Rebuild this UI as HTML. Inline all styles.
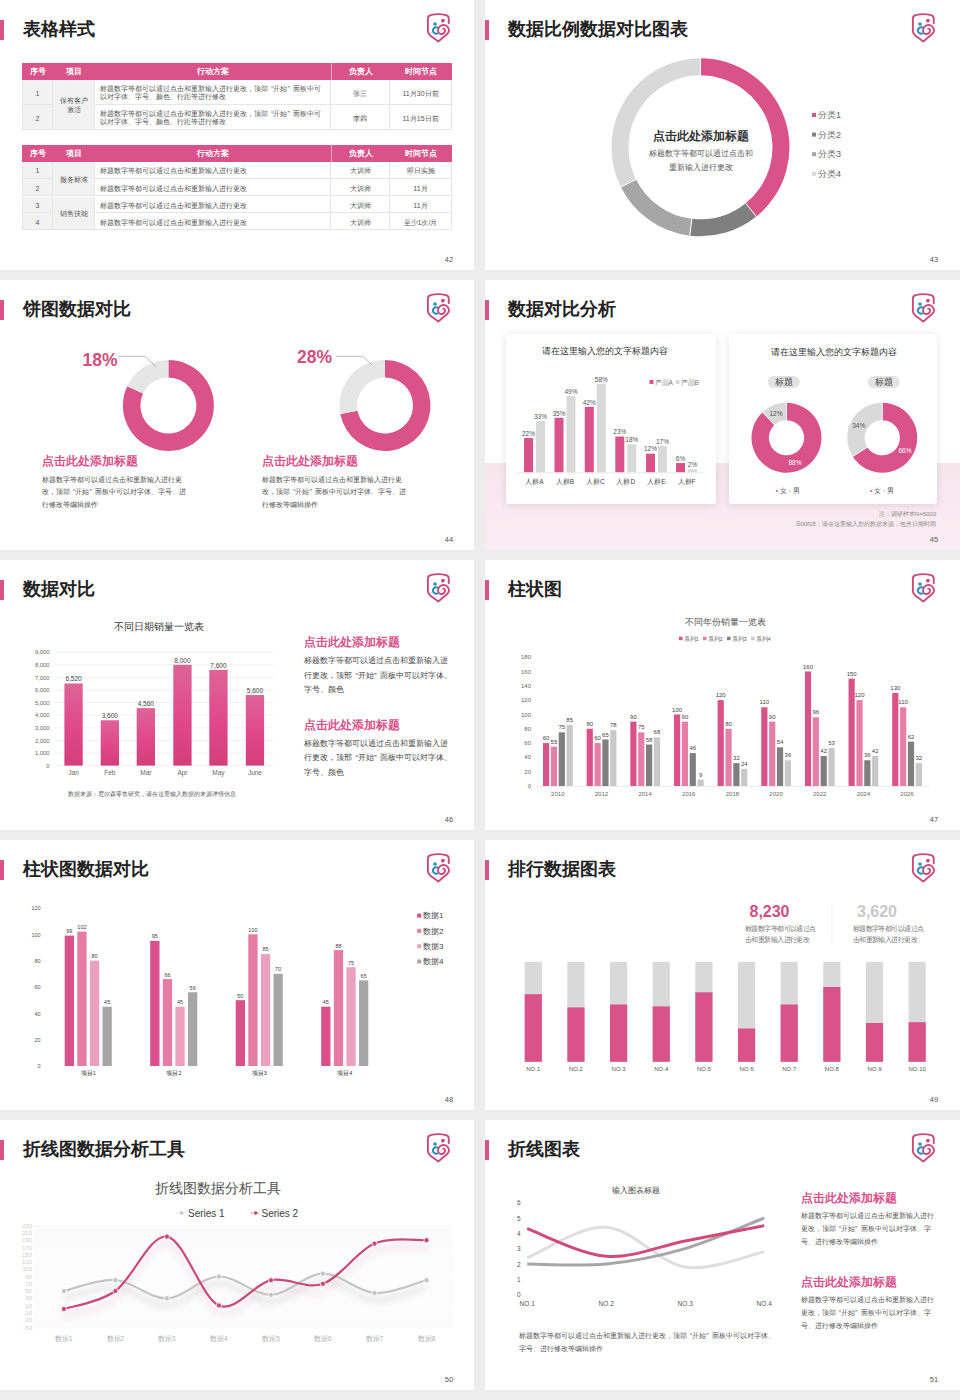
<!DOCTYPE html>
<html><head><meta charset="utf-8">
<style>
*{box-sizing:border-box}
html,body{margin:0;padding:0}
body{width:960px;height:1400px;background:#ededed;position:relative;overflow:hidden;font-family:"Liberation Sans",sans-serif;color:#333}
.s{position:absolute;width:474px;height:270px;background:#fff;overflow:hidden}
.c0{left:0}.c1{left:485px;width:475px}
.bar{position:absolute;left:0;top:20px;width:4px;height:20px;background:#d9538a}
.t{position:absolute;left:23px;top:19px;font-size:18px;line-height:20px;font-weight:bold;color:#222;white-space:nowrap}
.logo{position:absolute;left:420px;top:5px;width:40px;height:45px}
.pn{position:absolute;left:439px;width:20px;top:255px;font-size:7.5px;line-height:9px;color:#555;text-align:center}
.a{position:absolute;white-space:nowrap}
svg{display:block}
.sv{position:absolute;left:0;top:0}
.tc{position:absolute;display:flex;flex-direction:column;justify-content:center;font-size:7px;line-height:9px;color:#555;border-right:1px solid #e6e6e6;border-bottom:1px solid #e6e6e6;white-space:nowrap}
.th{position:absolute;background:#d9538a}
.thx{position:absolute;text-align:center;color:#fff;font-weight:bold;font-size:8px}
.tdv{position:absolute;width:1px;background:#f0a8c4}
.ql{padding-left:.45em}.qr{padding-right:.45em}
</style></head><body>
<div class="s c0" style="top:0px;">
<div class="th" style="left:22px;top:62.6px;width:430px;height:17.1px"></div>
<div class="thx" style="left:22px;top:62.6px;width:31px;height:17.1px;line-height:17.1px">序号</div>
<div class="thx" style="left:53px;top:62.6px;width:42px;height:17.1px;line-height:17.1px">项目</div>
<div class="thx" style="left:95px;top:62.6px;width:236px;height:17.1px;line-height:17.1px">行动方案</div>
<div class="thx" style="left:331px;top:62.6px;width:59px;height:17.1px;line-height:17.1px">负责人</div>
<div class="thx" style="left:390px;top:62.6px;width:62px;height:17.1px;line-height:17.1px">时间节点</div>
<div class="tdv" style="left:331px;top:62.6px;height:17.1px"></div>
<div class="tc" style="padding-top:2px;left:22px;top:79.7px;width:31px;height:25.7px;background:#f2f2f2;text-align:center;border-left:1px solid #e6e6e6"><div>1</div></div>
<div class="tc" style="padding-top:2px;left:95px;top:79.7px;width:236px;height:25.7px;background:#fff;padding-left:5px;line-height:8.5px"><div>标题数字等都可以通过点击和重新输入进行更改，顶部<span class="ql">“</span>开始<span class="qr">”</span>面板中可<br>以对字体、字号、颜色、行距等进行修改</div></div>
<div class="tc" style="padding-top:2px;left:331px;top:79.7px;width:59px;height:25.7px;background:#fff;text-align:center"><div>张三</div></div>
<div class="tc" style="padding-top:2px;left:390px;top:79.7px;width:62px;height:25.7px;background:#fff;text-align:center"><div>11月30日前</div></div>
<div class="tc" style="padding-top:2px;left:22px;top:105.4px;width:31px;height:24.8px;background:#f2f2f2;text-align:center;border-left:1px solid #e6e6e6"><div>2</div></div>
<div class="tc" style="padding-top:2px;left:95px;top:105.4px;width:236px;height:24.8px;background:#fff;padding-left:5px;line-height:8.5px"><div>标题数字等都可以通过点击和重新输入进行更改，顶部<span class="ql">“</span>开始<span class="qr">”</span>面板中可<br>以对字体、字号、颜色、行距等进行修改</div></div>
<div class="tc" style="padding-top:2px;left:331px;top:105.4px;width:59px;height:24.8px;background:#fff;text-align:center"><div>李四</div></div>
<div class="tc" style="padding-top:2px;left:390px;top:105.4px;width:62px;height:24.8px;background:#fff;text-align:center"><div>11月15日前</div></div>
<div class="tc" style="padding-top:2px;left:53px;top:79.7px;width:42px;height:50.5px;background:#f2f2f2;text-align:center;line-height:9px"><div>保有客户<br>激活</div></div>
<div class="th" style="left:22px;top:144.7px;width:430px;height:17.0px"></div>
<div class="thx" style="left:22px;top:144.7px;width:31px;height:17.0px;line-height:17.0px">序号</div>
<div class="thx" style="left:53px;top:144.7px;width:42px;height:17.0px;line-height:17.0px">项目</div>
<div class="thx" style="left:95px;top:144.7px;width:236px;height:17.0px;line-height:17.0px">行动方案</div>
<div class="thx" style="left:331px;top:144.7px;width:59px;height:17.0px;line-height:17.0px">负责人</div>
<div class="thx" style="left:390px;top:144.7px;width:62px;height:17.0px;line-height:17.0px">时间节点</div>
<div class="tdv" style="left:331px;top:144.7px;height:17.0px"></div>
<div class="tc" style="padding-top:2px;left:22px;top:161.7px;width:31px;height:17.5px;background:#f2f2f2;text-align:center;border-left:1px solid #e6e6e6"><div>1</div></div>
<div class="tc" style="padding-top:2px;left:95px;top:161.7px;width:236px;height:17.5px;background:#fff;padding-left:5px"><div>标题数字等都可以通过点击和重新输入进行更改</div></div>
<div class="tc" style="padding-top:2px;left:331px;top:161.7px;width:59px;height:17.5px;background:#fff;text-align:center"><div>大训师</div></div>
<div class="tc" style="padding-top:2px;left:390px;top:161.7px;width:62px;height:17.5px;background:#fff;text-align:center"><div>即日实施</div></div>
<div class="tc" style="padding-top:2px;left:22px;top:179.2px;width:31px;height:17.3px;background:#f2f2f2;text-align:center;border-left:1px solid #e6e6e6"><div>2</div></div>
<div class="tc" style="padding-top:2px;left:95px;top:179.2px;width:236px;height:17.3px;background:#fff;padding-left:5px"><div>标题数字等都可以通过点击和重新输入进行更改</div></div>
<div class="tc" style="padding-top:2px;left:331px;top:179.2px;width:59px;height:17.3px;background:#fff;text-align:center"><div>大训师</div></div>
<div class="tc" style="padding-top:2px;left:390px;top:179.2px;width:62px;height:17.3px;background:#fff;text-align:center"><div>11月</div></div>
<div class="tc" style="padding-top:2px;left:22px;top:196.5px;width:31px;height:16.9px;background:#f2f2f2;text-align:center;border-left:1px solid #e6e6e6"><div>3</div></div>
<div class="tc" style="padding-top:2px;left:95px;top:196.5px;width:236px;height:16.9px;background:#fff;padding-left:5px"><div>标题数字等都可以通过点击和重新输入进行更改</div></div>
<div class="tc" style="padding-top:2px;left:331px;top:196.5px;width:59px;height:16.9px;background:#fff;text-align:center"><div>大训师</div></div>
<div class="tc" style="padding-top:2px;left:390px;top:196.5px;width:62px;height:16.9px;background:#fff;text-align:center"><div>11月</div></div>
<div class="tc" style="padding-top:2px;left:22px;top:213.4px;width:31px;height:16.9px;background:#f2f2f2;text-align:center;border-left:1px solid #e6e6e6"><div>4</div></div>
<div class="tc" style="padding-top:2px;left:95px;top:213.4px;width:236px;height:16.9px;background:#fff;padding-left:5px"><div>标题数字等都可以通过点击和重新输入进行更改</div></div>
<div class="tc" style="padding-top:2px;left:331px;top:213.4px;width:59px;height:16.9px;background:#fff;text-align:center"><div>大训师</div></div>
<div class="tc" style="padding-top:2px;left:390px;top:213.4px;width:62px;height:16.9px;background:#fff;text-align:center"><div>至少1次/月</div></div>
<div class="tc" style="padding-top:2px;left:53px;top:161.7px;width:42px;height:34.8px;background:#f2f2f2;text-align:center"><div>服务标准</div></div>
<div class="tc" style="padding-top:2px;left:53px;top:196.5px;width:42px;height:33.8px;background:#f2f2f2;text-align:center"><div>销售技能</div></div>
<div class="bar"></div><div class="t">表格样式</div>
<svg class="logo" viewBox="0 0 40 45"><use href="#lg"/></svg>
<div class="pn">42</div>
</div>

<div class="s c1" style="top:0px;">
<svg class="sv" width="475" height="270">
<path d="M215.50 58.30A89 89 0 0 1 271.39 216.56L260.71 203.33A72 72 0 0 0 215.50 75.30Z" fill="#d9538a"/>
<path d="M271.39 216.56A89 89 0 0 1 204.81 235.66L206.85 218.78A72 72 0 0 0 260.71 203.33Z" fill="#7f7f7f"/>
<path d="M204.81 235.66A89 89 0 0 1 135.85 187.01L151.06 179.43A72 72 0 0 0 206.85 218.78Z" fill="#a6a6a6"/>
<path d="M135.85 187.01A89 89 0 0 1 215.50 58.30L215.50 75.30A72 72 0 0 0 151.06 179.43Z" fill="#d9d9d9"/>
<line x1="215.50" y1="75.30" x2="215.50" y2="57.30" stroke="#fff" stroke-width="1"/>
<line x1="260.71" y1="203.33" x2="272.02" y2="217.34" stroke="#fff" stroke-width="1"/>
<line x1="206.85" y1="218.78" x2="204.69" y2="236.65" stroke="#fff" stroke-width="1"/>
<line x1="151.06" y1="179.43" x2="134.96" y2="187.46" stroke="#fff" stroke-width="1"/>
<rect x="327" y="113.0" width="4" height="4" fill="#d9538a"/>
<rect x="327" y="132.6" width="4" height="4" fill="#7f7f7f"/>
<rect x="327" y="152.2" width="4" height="4" fill="#a6a6a6"/>
<rect x="327" y="171.8" width="4" height="4" fill="#d9d9d9"/>
</svg>
<div class="a" style="left:333px;top:110.15px;font-size:9px;line-height:11.700000000000001px;color:#666;">分类1</div>
<div class="a" style="left:333px;top:129.75px;font-size:9px;line-height:11.700000000000001px;color:#666;">分类2</div>
<div class="a" style="left:333px;top:149.35px;font-size:9px;line-height:11.700000000000001px;color:#666;">分类3</div>
<div class="a" style="left:333px;top:168.95px;font-size:9px;line-height:11.700000000000001px;color:#666;">分类4</div>
<div class="a" style="left:216px;top:128.70px;font-size:12px;line-height:15.600000000000001px;color:#333;font-weight:bold;transform:translateX(-50%);text-align:center;">点击此处添加标题</div>
<div class="a" style="left:216px;top:148.80px;font-size:8px;line-height:10.4px;color:#555;transform:translateX(-50%);text-align:center;">标题数字等都可以通过点击和</div>
<div class="a" style="left:216px;top:162.80px;font-size:8px;line-height:10.4px;color:#555;transform:translateX(-50%);text-align:center;">重新输入进行更改</div>
<div class="bar"></div><div class="t">数据比例数据对比图表</div>
<svg class="logo" viewBox="0 0 40 45"><use href="#lg"/></svg>
<div class="pn">43</div>
</div>

<div class="s c0" style="top:280px;">
<svg class="sv" width="474" height="270">
<path d="M168.40 80.00A45.5 45.5 0 1 1 127.23 106.13L143.06 113.58A28 28 0 1 0 168.40 97.50Z" fill="#d9538a"/>
<path d="M127.23 106.13A45.5 45.5 0 0 1 168.40 80.00L168.40 97.50A28 28 0 0 0 143.06 113.58Z" fill="#e6e6e6"/>
<path d="M385.00 80.00A45.5 45.5 0 1 1 340.31 134.03L357.50 130.75A28 28 0 1 0 385.00 97.50Z" fill="#d9538a"/>
<path d="M340.31 134.03A45.5 45.5 0 0 1 385.00 80.00L385.00 97.50A28 28 0 0 0 357.50 130.75Z" fill="#e6e6e6"/>
<polyline points="118,76.3 145,76.3 156.3,87" fill="none" stroke="#b5a3aa" stroke-width="0.8"/>
<polyline points="336,76.3 363,76.3 372,85" fill="none" stroke="#b5a3aa" stroke-width="0.8"/>
</svg>
<div class="a" style="left:100px;top:69.12px;font-size:17.5px;line-height:22.75px;color:#d0507f;font-weight:bold;transform:translateX(-50%);text-align:center;">18%</div>
<div class="a" style="left:314.5px;top:66.12px;font-size:17.5px;line-height:22.75px;color:#d0507f;font-weight:bold;transform:translateX(-50%);text-align:center;">28%</div>
<div class="a" style="left:42px;top:174.00px;font-size:12px;line-height:15.600000000000001px;color:#d9538a;font-weight:bold;">点击此处添加标题</div>
<div class="a" style="left:42px;top:193.55px;font-size:7px;line-height:12.5px;color:#505050;">标题数字等都可以通过点击和重新输入进行更<br>改，顶部<span class="ql">“</span>开始<span class="qr">”</span>面板中可以对字体、字号、进<br>行修改等编辑操作</div>
<div class="a" style="left:262px;top:174.00px;font-size:12px;line-height:15.600000000000001px;color:#d9538a;font-weight:bold;">点击此处添加标题</div>
<div class="a" style="left:262px;top:193.55px;font-size:7px;line-height:12.5px;color:#505050;">标题数字等都可以通过点击和重新输入进行更<br>改，顶部<span class="ql">“</span>开始<span class="qr">”</span>面板中可以对字体、字号、进<br>行修改等编辑操作</div>
<div class="bar"></div><div class="t">饼图数据对比</div>
<svg class="logo" viewBox="0 0 40 45"><use href="#lg"/></svg>
<div class="pn">44</div>
</div>

<div class="s c1" style="top:280px;">
<div style="position:absolute;left:0;top:183px;width:475px;height:87px;background:linear-gradient(#f7e5ec,#fbedf3)"></div>
<div style="position:absolute;left:21px;top:54px;width:210px;height:170px;background:#fff;border-radius:3px;box-shadow:0 1px 9px rgba(0,0,0,0.11)"></div>
<div style="position:absolute;left:244px;top:54px;width:208px;height:170px;background:#fff;border-radius:3px;box-shadow:0 1px 9px rgba(0,0,0,0.11)"></div>
<svg class="sv" width="475" height="270">
<rect x="39" y="158.08" width="9" height="34.32" fill="#d9538a"/>
<rect x="51" y="140.92" width="9" height="51.48" fill="#d9d9d9"/>
<rect x="69.5" y="137.80" width="9" height="54.60" fill="#d9538a"/>
<rect x="81.5" y="115.96" width="9" height="76.44" fill="#d9d9d9"/>
<rect x="99.8" y="126.88" width="9" height="65.52" fill="#d9538a"/>
<rect x="111.8" y="104.10" width="9" height="88.30" fill="#d9d9d9"/>
<rect x="130.3" y="156.52" width="9" height="35.88" fill="#d9538a"/>
<rect x="142.3" y="164.32" width="9" height="28.08" fill="#d9d9d9"/>
<rect x="161" y="173.68" width="9" height="18.72" fill="#d9538a"/>
<rect x="173" y="165.88" width="9" height="26.52" fill="#d9d9d9"/>
<rect x="191" y="183.04" width="9" height="9.36" fill="#d9538a"/>
<rect x="203" y="189.28" width="9" height="3.12" fill="#d9d9d9"/>
<line x1="32" y1="192.9" x2="218" y2="192.9" stroke="#e8e8e8" stroke-width="1"/>
<rect x="164.5" y="100" width="4" height="4" fill="#d9538a"/>
<rect x="190.5" y="100" width="4" height="4" fill="#d9d9d9"/>
<path d="M301.50 122.75A35 35 0 1 1 277.54 132.24L289.45 144.92A17.6 17.6 0 1 0 301.50 140.15Z" fill="#d9538a"/>
<path d="M277.54 132.24A35 35 0 0 1 301.50 122.75L301.50 140.15A17.6 17.6 0 0 0 289.45 144.92Z" fill="#d9d9d9"/>
<line x1="301.50" y1="140.75" x2="301.50" y2="121.75" stroke="#fff" stroke-width="0.8"/>
<line x1="289.86" y1="145.36" x2="276.86" y2="131.51" stroke="#fff" stroke-width="0.8"/>
<path d="M397.25 122.75A35 35 0 1 1 367.70 176.50L382.39 167.18A17.6 17.6 0 1 0 397.25 140.15Z" fill="#d9538a"/>
<path d="M367.70 176.50A35 35 0 0 1 397.25 122.75L397.25 140.15A17.6 17.6 0 0 0 382.39 167.18Z" fill="#d9d9d9"/>
<line x1="397.25" y1="140.75" x2="397.25" y2="121.75" stroke="#fff" stroke-width="0.8"/>
<line x1="382.90" y1="166.86" x2="366.85" y2="177.04" stroke="#fff" stroke-width="0.8"/>
<rect x="282.75" y="96" width="32" height="12" rx="6" fill="#e3e3e3"/>
<rect x="382.75" y="96" width="32" height="12" rx="6" fill="#e3e3e3"/>
</svg>
<div class="a" style="left:43.5px;top:149.86px;font-size:6.5px;line-height:8.450000000000001px;color:#555;transform:translateX(-50%);text-align:center;">22%</div>
<div class="a" style="left:55.5px;top:132.70px;font-size:6.5px;line-height:8.450000000000001px;color:#555;transform:translateX(-50%);text-align:center;">33%</div>
<div class="a" style="left:74.0px;top:129.58px;font-size:6.5px;line-height:8.450000000000001px;color:#555;transform:translateX(-50%);text-align:center;">35%</div>
<div class="a" style="left:86.0px;top:107.74px;font-size:6.5px;line-height:8.450000000000001px;color:#555;transform:translateX(-50%);text-align:center;">49%</div>
<div class="a" style="left:104.3px;top:118.66px;font-size:6.5px;line-height:8.450000000000001px;color:#555;transform:translateX(-50%);text-align:center;">42%</div>
<div class="a" style="left:116.3px;top:95.88px;font-size:6.5px;line-height:8.450000000000001px;color:#555;transform:translateX(-50%);text-align:center;">58%</div>
<div class="a" style="left:134.8px;top:148.30px;font-size:6.5px;line-height:8.450000000000001px;color:#555;transform:translateX(-50%);text-align:center;">23%</div>
<div class="a" style="left:146.8px;top:156.09px;font-size:6.5px;line-height:8.450000000000001px;color:#555;transform:translateX(-50%);text-align:center;">18%</div>
<div class="a" style="left:165.5px;top:165.46px;font-size:6.5px;line-height:8.450000000000001px;color:#555;transform:translateX(-50%);text-align:center;">12%</div>
<div class="a" style="left:177.5px;top:157.66px;font-size:6.5px;line-height:8.450000000000001px;color:#555;transform:translateX(-50%);text-align:center;">17%</div>
<div class="a" style="left:195.5px;top:174.82px;font-size:6.5px;line-height:8.450000000000001px;color:#555;transform:translateX(-50%);text-align:center;">6%</div>
<div class="a" style="left:207.5px;top:181.06px;font-size:6.5px;line-height:8.450000000000001px;color:#555;transform:translateX(-50%);text-align:center;">2%</div>
<div class="a" style="left:120px;top:66.28px;font-size:8.8px;line-height:11.440000000000001px;color:#333;transform:translateX(-50%);text-align:center;">请在这里输入您的文字标题内容</div>
<div class="a" style="left:348.75px;top:67.28px;font-size:8.8px;line-height:11.440000000000001px;color:#333;transform:translateX(-50%);text-align:center;">请在这里输入您的文字标题内容</div>
<div class="a" style="left:49.5px;top:198.28px;font-size:6.5px;line-height:8.450000000000001px;color:#444;transform:translateX(-50%);text-align:center;">人群A</div>
<div class="a" style="left:80.0px;top:198.28px;font-size:6.5px;line-height:8.450000000000001px;color:#444;transform:translateX(-50%);text-align:center;">人群B</div>
<div class="a" style="left:110.3px;top:198.28px;font-size:6.5px;line-height:8.450000000000001px;color:#444;transform:translateX(-50%);text-align:center;">人群C</div>
<div class="a" style="left:140.8px;top:198.28px;font-size:6.5px;line-height:8.450000000000001px;color:#444;transform:translateX(-50%);text-align:center;">人群D</div>
<div class="a" style="left:171.5px;top:198.28px;font-size:6.5px;line-height:8.450000000000001px;color:#444;transform:translateX(-50%);text-align:center;">人群E</div>
<div class="a" style="left:201.5px;top:198.28px;font-size:6.5px;line-height:8.450000000000001px;color:#444;transform:translateX(-50%);text-align:center;">人群F</div>
<div class="a" style="left:169.5px;top:98.78px;font-size:6.5px;line-height:8.450000000000001px;color:#777;">产品A</div>
<div class="a" style="left:195.5px;top:98.78px;font-size:6.5px;line-height:8.450000000000001px;color:#777;">产品B</div>
<div class="a" style="left:298.75px;top:97.15px;font-size:9px;line-height:11.700000000000001px;color:#444;transform:translateX(-50%);text-align:center;">标题</div>
<div class="a" style="left:398.75px;top:97.15px;font-size:9px;line-height:11.700000000000001px;color:#444;transform:translateX(-50%);text-align:center;">标题</div>
<div class="a" style="left:291px;top:129.78px;font-size:6.5px;line-height:8.450000000000001px;color:#555;transform:translateX(-50%);text-align:center;">12%</div>
<div class="a" style="left:310px;top:179.28px;font-size:6.5px;line-height:8.450000000000001px;color:#fff;transform:translateX(-50%);text-align:center;">88%</div>
<div class="a" style="left:373.75px;top:141.78px;font-size:6.5px;line-height:8.450000000000001px;color:#555;transform:translateX(-50%);text-align:center;">34%</div>
<div class="a" style="left:420px;top:167.28px;font-size:6.5px;line-height:8.450000000000001px;color:#fff;transform:translateX(-50%);text-align:center;">66%</div>
<div class="a" style="left:302.75px;top:206.78px;font-size:6.5px;line-height:8.450000000000001px;color:#555;transform:translateX(-50%);text-align:center;"><span style="color:#d9538a">•</span> 女 <span style="color:#ccc">•</span> 男</div>
<div class="a" style="left:397px;top:206.78px;font-size:6.5px;line-height:8.450000000000001px;color:#555;transform:translateX(-50%);text-align:center;"><span style="color:#d9538a">•</span> 女 <span style="color:#ccc">•</span> 男</div>
<div class="a" style="left:451px;top:230.85px;font-size:6px;line-height:7.800000000000001px;color:#888;transform:translateX(-100%);text-align:right;">注：调研样本N=5000</div>
<div class="a" style="left:451px;top:239.91px;font-size:6.3px;line-height:8.19px;color:#888;transform:translateX(-100%);text-align:right;">Source：请在这里输入您的数据来源，包含日期时间</div>
<div class="bar"></div><div class="t">数据对比分析</div>
<svg class="logo" viewBox="0 0 40 45"><use href="#lg"/></svg>
<div class="pn">45</div>
</div>

<div class="s c0" style="top:560px;">
<svg class="sv" width="474" height="270"><defs><linearGradient id="bg46" x1="0" y1="0" x2="0" y2="1"><stop offset="0" stop-color="#de6497"/><stop offset="0.55" stop-color="#e0488a"/><stop offset="1" stop-color="#d43f7a"/></linearGradient></defs>
<line x1="55" y1="205.60" x2="273" y2="205.60" stroke="#ececec" stroke-width="0.8"/>
<line x1="55" y1="193.00" x2="273" y2="193.00" stroke="#ececec" stroke-width="0.8"/>
<line x1="55" y1="180.40" x2="273" y2="180.40" stroke="#ececec" stroke-width="0.8"/>
<line x1="55" y1="167.80" x2="273" y2="167.80" stroke="#ececec" stroke-width="0.8"/>
<line x1="55" y1="155.20" x2="273" y2="155.20" stroke="#ececec" stroke-width="0.8"/>
<line x1="55" y1="142.60" x2="273" y2="142.60" stroke="#ececec" stroke-width="0.8"/>
<line x1="55" y1="130.00" x2="273" y2="130.00" stroke="#ececec" stroke-width="0.8"/>
<line x1="55" y1="117.40" x2="273" y2="117.40" stroke="#ececec" stroke-width="0.8"/>
<line x1="55" y1="104.80" x2="273" y2="104.80" stroke="#ececec" stroke-width="0.8"/>
<line x1="55" y1="92.20" x2="273" y2="92.20" stroke="#ececec" stroke-width="0.8"/>
<rect x="64.4" y="123.45" width="18.3" height="82.15" fill="url(#bg46)"/>
<rect x="100.7" y="160.24" width="18.3" height="45.36" fill="url(#bg46)"/>
<rect x="136.7" y="148.14" width="18.3" height="57.46" fill="url(#bg46)"/>
<rect x="173.3" y="104.80" width="18.3" height="100.80" fill="url(#bg46)"/>
<rect x="209.3" y="109.84" width="18.3" height="95.76" fill="url(#bg46)"/>
<rect x="245.8" y="135.04" width="18.3" height="70.56" fill="url(#bg46)"/>
</svg>
<div class="a" style="left:73.55000000000001px;top:115.42px;font-size:6.5px;line-height:8.450000000000001px;color:#444;transform:translateX(-50%);text-align:center;">6,520</div>
<div class="a" style="left:109.85000000000001px;top:152.22px;font-size:6.5px;line-height:8.450000000000001px;color:#444;transform:translateX(-50%);text-align:center;">3,600</div>
<div class="a" style="left:145.85px;top:140.12px;font-size:6.5px;line-height:8.450000000000001px;color:#444;transform:translateX(-50%);text-align:center;">4,560</div>
<div class="a" style="left:182.45000000000002px;top:96.78px;font-size:6.5px;line-height:8.450000000000001px;color:#444;transform:translateX(-50%);text-align:center;">8,000</div>
<div class="a" style="left:218.45000000000002px;top:101.82px;font-size:6.5px;line-height:8.450000000000001px;color:#444;transform:translateX(-50%);text-align:center;">7,600</div>
<div class="a" style="left:254.95000000000002px;top:127.02px;font-size:6.5px;line-height:8.450000000000001px;color:#444;transform:translateX(-50%);text-align:center;">5,600</div>
<div class="a" style="left:49.5px;top:202.83px;font-size:5.8px;line-height:7.54px;color:#666;transform:translateX(-100%);text-align:right;">0</div>
<div class="a" style="left:49.5px;top:190.23px;font-size:5.8px;line-height:7.54px;color:#666;transform:translateX(-100%);text-align:right;">1,000</div>
<div class="a" style="left:49.5px;top:177.63px;font-size:5.8px;line-height:7.54px;color:#666;transform:translateX(-100%);text-align:right;">2,000</div>
<div class="a" style="left:49.5px;top:165.03px;font-size:5.8px;line-height:7.54px;color:#666;transform:translateX(-100%);text-align:right;">3,000</div>
<div class="a" style="left:49.5px;top:152.43px;font-size:5.8px;line-height:7.54px;color:#666;transform:translateX(-100%);text-align:right;">4,000</div>
<div class="a" style="left:49.5px;top:139.83px;font-size:5.8px;line-height:7.54px;color:#666;transform:translateX(-100%);text-align:right;">5,000</div>
<div class="a" style="left:49.5px;top:127.23px;font-size:5.8px;line-height:7.54px;color:#666;transform:translateX(-100%);text-align:right;">6,000</div>
<div class="a" style="left:49.5px;top:114.63px;font-size:5.8px;line-height:7.54px;color:#666;transform:translateX(-100%);text-align:right;">7,000</div>
<div class="a" style="left:49.5px;top:102.03px;font-size:5.8px;line-height:7.54px;color:#666;transform:translateX(-100%);text-align:right;">8,000</div>
<div class="a" style="left:49.5px;top:89.43px;font-size:5.8px;line-height:7.54px;color:#666;transform:translateX(-100%);text-align:right;">9,000</div>
<div class="a" style="left:73.55000000000001px;top:209.28px;font-size:6.5px;line-height:8.450000000000001px;color:#666;transform:translateX(-50%);text-align:center;">Jan</div>
<div class="a" style="left:109.85000000000001px;top:209.28px;font-size:6.5px;line-height:8.450000000000001px;color:#666;transform:translateX(-50%);text-align:center;">Feb</div>
<div class="a" style="left:145.85px;top:209.28px;font-size:6.5px;line-height:8.450000000000001px;color:#666;transform:translateX(-50%);text-align:center;">Mar</div>
<div class="a" style="left:182.45000000000002px;top:209.28px;font-size:6.5px;line-height:8.450000000000001px;color:#666;transform:translateX(-50%);text-align:center;">Apr</div>
<div class="a" style="left:218.45000000000002px;top:209.28px;font-size:6.5px;line-height:8.450000000000001px;color:#666;transform:translateX(-50%);text-align:center;">May</div>
<div class="a" style="left:254.95000000000002px;top:209.28px;font-size:6.5px;line-height:8.450000000000001px;color:#666;transform:translateX(-50%);text-align:center;">June</div>
<div class="a" style="left:159px;top:59.50px;font-size:10px;line-height:13.0px;color:#333;transform:translateX(-50%);text-align:center;">不同日期销量一览表</div>
<div class="a" style="left:67.8px;top:230.50px;font-size:6px;line-height:7.800000000000001px;color:#555;">数据来源：尼尔森零售研究，请在这里输入数据的来源详情信息</div>
<div class="a" style="left:303.8px;top:75.40px;font-size:12px;line-height:15.600000000000001px;color:#d9538a;font-weight:bold;">点击此处添加标题</div>
<div class="a" style="left:303.8px;top:94.40px;font-size:8px;line-height:14.4px;color:#444;">标题数字等都可以通过点击和重新输入进<br>行更改，顶部<span class="ql">“</span>开始<span class="qr">”</span>面板中可以对字体、<br>字号、颜色</div>
<div class="a" style="left:303.8px;top:158.20px;font-size:12px;line-height:15.600000000000001px;color:#d9538a;font-weight:bold;">点击此处添加标题</div>
<div class="a" style="left:303.8px;top:176.80px;font-size:8px;line-height:14.4px;color:#444;">标题数字等都可以通过点击和重新输入进<br>行更改，顶部<span class="ql">“</span>开始<span class="qr">”</span>面板中可以对字体、<br>字号、颜色</div>
<div class="bar"></div><div class="t">数据对比</div>
<svg class="logo" viewBox="0 0 40 45"><use href="#lg"/></svg>
<div class="pn">46</div>
</div>

<div class="s c1" style="top:560px;">
<svg class="sv" width="475" height="270">
<line x1="51" y1="226.3" x2="444" y2="226.3" stroke="#e0e0e0" stroke-width="0.7"/>
<rect x="58.00" y="183.06" width="6.2" height="42.94" fill="#d9538a"/>
<rect x="65.85" y="186.64" width="6.2" height="39.36" fill="#e67fa8"/>
<rect x="73.70" y="172.33" width="6.2" height="53.67" fill="#7f7f7f"/>
<rect x="81.55" y="165.17" width="6.2" height="60.83" fill="#c8c8c8"/>
<rect x="101.65" y="168.75" width="6.2" height="57.25" fill="#d9538a"/>
<rect x="109.50" y="183.06" width="6.2" height="42.94" fill="#e67fa8"/>
<rect x="117.35" y="179.49" width="6.2" height="46.51" fill="#7f7f7f"/>
<rect x="125.20" y="170.18" width="6.2" height="55.82" fill="#c8c8c8"/>
<rect x="145.30" y="161.60" width="6.2" height="64.40" fill="#d9538a"/>
<rect x="153.15" y="172.33" width="6.2" height="53.67" fill="#e67fa8"/>
<rect x="161.00" y="184.50" width="6.2" height="41.50" fill="#7f7f7f"/>
<rect x="168.85" y="177.34" width="6.2" height="48.66" fill="#c8c8c8"/>
<rect x="188.95" y="154.44" width="6.2" height="71.56" fill="#d9538a"/>
<rect x="196.80" y="161.60" width="6.2" height="64.40" fill="#e67fa8"/>
<rect x="204.65" y="193.08" width="6.2" height="32.92" fill="#7f7f7f"/>
<rect x="212.50" y="219.56" width="6.2" height="6.44" fill="#c8c8c8"/>
<rect x="232.60" y="140.13" width="6.2" height="85.87" fill="#d9538a"/>
<rect x="240.45" y="168.75" width="6.2" height="57.25" fill="#e67fa8"/>
<rect x="248.30" y="203.10" width="6.2" height="22.90" fill="#7f7f7f"/>
<rect x="256.15" y="208.83" width="6.2" height="17.17" fill="#c8c8c8"/>
<rect x="276.25" y="147.28" width="6.2" height="78.72" fill="#d9538a"/>
<rect x="284.10" y="161.60" width="6.2" height="64.40" fill="#e67fa8"/>
<rect x="291.95" y="187.36" width="6.2" height="38.64" fill="#7f7f7f"/>
<rect x="299.80" y="200.24" width="6.2" height="25.76" fill="#c8c8c8"/>
<rect x="319.90" y="111.50" width="6.2" height="114.50" fill="#d9538a"/>
<rect x="327.75" y="157.30" width="6.2" height="68.70" fill="#e67fa8"/>
<rect x="335.60" y="195.94" width="6.2" height="30.06" fill="#7f7f7f"/>
<rect x="343.45" y="188.07" width="6.2" height="37.93" fill="#c8c8c8"/>
<rect x="363.55" y="118.66" width="6.2" height="107.34" fill="#d9538a"/>
<rect x="371.40" y="140.13" width="6.2" height="85.87" fill="#e67fa8"/>
<rect x="379.25" y="200.24" width="6.2" height="25.76" fill="#7f7f7f"/>
<rect x="387.10" y="195.94" width="6.2" height="30.06" fill="#c8c8c8"/>
<rect x="407.20" y="132.97" width="6.2" height="93.03" fill="#d9538a"/>
<rect x="415.05" y="147.28" width="6.2" height="78.72" fill="#e67fa8"/>
<rect x="422.90" y="181.63" width="6.2" height="44.37" fill="#7f7f7f"/>
<rect x="430.75" y="203.10" width="6.2" height="22.90" fill="#c8c8c8"/>
<rect x="194" y="76.7" width="3.5" height="3.5" fill="#d9538a"/>
<rect x="218" y="76.7" width="3.5" height="3.5" fill="#e67fa8"/>
<rect x="242" y="76.7" width="3.5" height="3.5" fill="#7f7f7f"/>
<rect x="266" y="76.7" width="3.5" height="3.5" fill="#c8c8c8"/>
</svg>
<div class="a" style="left:61.1px;top:175.16px;font-size:6px;line-height:7.800000000000001px;color:#444;transform:translateX(-50%);text-align:center;">60</div>
<div class="a" style="left:68.94999999999999px;top:178.74px;font-size:6px;line-height:7.800000000000001px;color:#444;transform:translateX(-50%);text-align:center;">55</div>
<div class="a" style="left:76.8px;top:164.43px;font-size:6px;line-height:7.800000000000001px;color:#444;transform:translateX(-50%);text-align:center;">75</div>
<div class="a" style="left:84.64999999999999px;top:157.27px;font-size:6px;line-height:7.800000000000001px;color:#444;transform:translateX(-50%);text-align:center;">85</div>
<div class="a" style="left:104.75px;top:160.85px;font-size:6px;line-height:7.800000000000001px;color:#444;transform:translateX(-50%);text-align:center;">80</div>
<div class="a" style="left:112.6px;top:175.16px;font-size:6px;line-height:7.800000000000001px;color:#444;transform:translateX(-50%);text-align:center;">60</div>
<div class="a" style="left:120.45px;top:171.59px;font-size:6px;line-height:7.800000000000001px;color:#444;transform:translateX(-50%);text-align:center;">65</div>
<div class="a" style="left:128.3px;top:162.28px;font-size:6px;line-height:7.800000000000001px;color:#444;transform:translateX(-50%);text-align:center;">78</div>
<div class="a" style="left:148.4px;top:153.70px;font-size:6px;line-height:7.800000000000001px;color:#444;transform:translateX(-50%);text-align:center;">90</div>
<div class="a" style="left:156.25px;top:164.43px;font-size:6px;line-height:7.800000000000001px;color:#444;transform:translateX(-50%);text-align:center;">75</div>
<div class="a" style="left:164.1px;top:176.60px;font-size:6px;line-height:7.800000000000001px;color:#444;transform:translateX(-50%);text-align:center;">58</div>
<div class="a" style="left:171.95000000000002px;top:169.44px;font-size:6px;line-height:7.800000000000001px;color:#444;transform:translateX(-50%);text-align:center;">68</div>
<div class="a" style="left:192.04999999999998px;top:146.54px;font-size:6px;line-height:7.800000000000001px;color:#444;transform:translateX(-50%);text-align:center;">100</div>
<div class="a" style="left:199.89999999999998px;top:153.70px;font-size:6px;line-height:7.800000000000001px;color:#444;transform:translateX(-50%);text-align:center;">90</div>
<div class="a" style="left:207.74999999999997px;top:185.18px;font-size:6px;line-height:7.800000000000001px;color:#444;transform:translateX(-50%);text-align:center;">46</div>
<div class="a" style="left:215.6px;top:211.66px;font-size:6px;line-height:7.800000000000001px;color:#444;transform:translateX(-50%);text-align:center;">9</div>
<div class="a" style="left:235.7px;top:132.23px;font-size:6px;line-height:7.800000000000001px;color:#444;transform:translateX(-50%);text-align:center;">120</div>
<div class="a" style="left:243.54999999999998px;top:160.85px;font-size:6px;line-height:7.800000000000001px;color:#444;transform:translateX(-50%);text-align:center;">80</div>
<div class="a" style="left:251.39999999999998px;top:195.20px;font-size:6px;line-height:7.800000000000001px;color:#444;transform:translateX(-50%);text-align:center;">32</div>
<div class="a" style="left:259.25px;top:200.93px;font-size:6px;line-height:7.800000000000001px;color:#444;transform:translateX(-50%);text-align:center;">24</div>
<div class="a" style="left:279.35px;top:139.38px;font-size:6px;line-height:7.800000000000001px;color:#444;transform:translateX(-50%);text-align:center;">110</div>
<div class="a" style="left:287.20000000000005px;top:153.70px;font-size:6px;line-height:7.800000000000001px;color:#444;transform:translateX(-50%);text-align:center;">90</div>
<div class="a" style="left:295.05px;top:179.46px;font-size:6px;line-height:7.800000000000001px;color:#444;transform:translateX(-50%);text-align:center;">54</div>
<div class="a" style="left:302.90000000000003px;top:192.34px;font-size:6px;line-height:7.800000000000001px;color:#444;transform:translateX(-50%);text-align:center;">36</div>
<div class="a" style="left:323.0px;top:103.60px;font-size:6px;line-height:7.800000000000001px;color:#444;transform:translateX(-50%);text-align:center;">160</div>
<div class="a" style="left:330.85px;top:149.40px;font-size:6px;line-height:7.800000000000001px;color:#444;transform:translateX(-50%);text-align:center;">96</div>
<div class="a" style="left:338.7px;top:188.04px;font-size:6px;line-height:7.800000000000001px;color:#444;transform:translateX(-50%);text-align:center;">42</div>
<div class="a" style="left:346.55px;top:180.17px;font-size:6px;line-height:7.800000000000001px;color:#444;transform:translateX(-50%);text-align:center;">53</div>
<div class="a" style="left:366.65000000000003px;top:110.76px;font-size:6px;line-height:7.800000000000001px;color:#444;transform:translateX(-50%);text-align:center;">150</div>
<div class="a" style="left:374.50000000000006px;top:132.23px;font-size:6px;line-height:7.800000000000001px;color:#444;transform:translateX(-50%);text-align:center;">120</div>
<div class="a" style="left:382.35px;top:192.34px;font-size:6px;line-height:7.800000000000001px;color:#444;transform:translateX(-50%);text-align:center;">36</div>
<div class="a" style="left:390.20000000000005px;top:188.04px;font-size:6px;line-height:7.800000000000001px;color:#444;transform:translateX(-50%);text-align:center;">42</div>
<div class="a" style="left:410.3px;top:125.07px;font-size:6px;line-height:7.800000000000001px;color:#444;transform:translateX(-50%);text-align:center;">130</div>
<div class="a" style="left:418.15000000000003px;top:139.38px;font-size:6px;line-height:7.800000000000001px;color:#444;transform:translateX(-50%);text-align:center;">110</div>
<div class="a" style="left:426.0px;top:173.73px;font-size:6px;line-height:7.800000000000001px;color:#444;transform:translateX(-50%);text-align:center;">62</div>
<div class="a" style="left:433.85px;top:195.20px;font-size:6px;line-height:7.800000000000001px;color:#444;transform:translateX(-50%);text-align:center;">32</div>
<div class="a" style="left:46px;top:223.10px;font-size:6px;line-height:7.800000000000001px;color:#666;transform:translateX(-100%);text-align:right;">0</div>
<div class="a" style="left:46px;top:208.79px;font-size:6px;line-height:7.800000000000001px;color:#666;transform:translateX(-100%);text-align:right;">20</div>
<div class="a" style="left:46px;top:194.48px;font-size:6px;line-height:7.800000000000001px;color:#666;transform:translateX(-100%);text-align:right;">40</div>
<div class="a" style="left:46px;top:180.16px;font-size:6px;line-height:7.800000000000001px;color:#666;transform:translateX(-100%);text-align:right;">60</div>
<div class="a" style="left:46px;top:165.85px;font-size:6px;line-height:7.800000000000001px;color:#666;transform:translateX(-100%);text-align:right;">80</div>
<div class="a" style="left:46px;top:151.54px;font-size:6px;line-height:7.800000000000001px;color:#666;transform:translateX(-100%);text-align:right;">100</div>
<div class="a" style="left:46px;top:137.23px;font-size:6px;line-height:7.800000000000001px;color:#666;transform:translateX(-100%);text-align:right;">120</div>
<div class="a" style="left:46px;top:122.92px;font-size:6px;line-height:7.800000000000001px;color:#666;transform:translateX(-100%);text-align:right;">140</div>
<div class="a" style="left:46px;top:108.60px;font-size:6px;line-height:7.800000000000001px;color:#666;transform:translateX(-100%);text-align:right;">160</div>
<div class="a" style="left:46px;top:94.29px;font-size:6px;line-height:7.800000000000001px;color:#666;transform:translateX(-100%);text-align:right;">180</div>
<div class="a" style="left:72.8px;top:230.80px;font-size:6px;line-height:7.800000000000001px;color:#666;transform:translateX(-50%);text-align:center;">2010</div>
<div class="a" style="left:116.45px;top:230.80px;font-size:6px;line-height:7.800000000000001px;color:#666;transform:translateX(-50%);text-align:center;">2012</div>
<div class="a" style="left:160.10000000000002px;top:230.80px;font-size:6px;line-height:7.800000000000001px;color:#666;transform:translateX(-50%);text-align:center;">2014</div>
<div class="a" style="left:203.75px;top:230.80px;font-size:6px;line-height:7.800000000000001px;color:#666;transform:translateX(-50%);text-align:center;">2016</div>
<div class="a" style="left:247.4px;top:230.80px;font-size:6px;line-height:7.800000000000001px;color:#666;transform:translateX(-50%);text-align:center;">2018</div>
<div class="a" style="left:291.05px;top:230.80px;font-size:6px;line-height:7.800000000000001px;color:#666;transform:translateX(-50%);text-align:center;">2020</div>
<div class="a" style="left:334.7px;top:230.80px;font-size:6px;line-height:7.800000000000001px;color:#666;transform:translateX(-50%);text-align:center;">2022</div>
<div class="a" style="left:378.35px;top:230.80px;font-size:6px;line-height:7.800000000000001px;color:#666;transform:translateX(-50%);text-align:center;">2024</div>
<div class="a" style="left:422.0px;top:230.80px;font-size:6px;line-height:7.800000000000001px;color:#666;transform:translateX(-50%);text-align:center;">2026</div>
<div class="a" style="left:198.5px;top:75.60px;font-size:6px;line-height:7.800000000000001px;color:#666;">系列1</div>
<div class="a" style="left:222.5px;top:75.60px;font-size:6px;line-height:7.800000000000001px;color:#666;">系列2</div>
<div class="a" style="left:246.5px;top:75.60px;font-size:6px;line-height:7.800000000000001px;color:#666;">系列3</div>
<div class="a" style="left:270.5px;top:75.60px;font-size:6px;line-height:7.800000000000001px;color:#666;">系列4</div>
<div class="a" style="left:240px;top:57.02px;font-size:9.2px;line-height:11.959999999999999px;color:#555;transform:translateX(-50%);text-align:center;">不同年份销量一览表</div>
<div class="bar"></div><div class="t">柱状图</div>
<svg class="logo" viewBox="0 0 40 45"><use href="#lg"/></svg>
<div class="pn">47</div>
</div>

<div class="s c0" style="top:840px;">
<svg class="sv" width="474" height="270">
<rect x="64.70" y="95.62" width="9.3" height="130.38" fill="#d9508a"/>
<rect x="77.30" y="91.67" width="9.3" height="134.33" fill="#e67ba4"/>
<rect x="89.90" y="120.64" width="9.3" height="105.36" fill="#eba1bd"/>
<rect x="102.50" y="166.74" width="9.3" height="59.27" fill="#a6a6a6"/>
<rect x="150.20" y="100.89" width="9.3" height="125.11" fill="#d9508a"/>
<rect x="162.80" y="139.08" width="9.3" height="86.92" fill="#e67ba4"/>
<rect x="175.40" y="166.74" width="9.3" height="59.27" fill="#eba1bd"/>
<rect x="188.00" y="152.25" width="9.3" height="73.75" fill="#a6a6a6"/>
<rect x="235.70" y="160.15" width="9.3" height="65.85" fill="#d9508a"/>
<rect x="248.30" y="94.30" width="9.3" height="131.70" fill="#e67ba4"/>
<rect x="260.90" y="114.06" width="9.3" height="111.94" fill="#eba1bd"/>
<rect x="273.50" y="133.81" width="9.3" height="92.19" fill="#a6a6a6"/>
<rect x="321.20" y="166.74" width="9.3" height="59.27" fill="#d9508a"/>
<rect x="333.80" y="110.10" width="9.3" height="115.90" fill="#e67ba4"/>
<rect x="346.40" y="127.23" width="9.3" height="98.77" fill="#eba1bd"/>
<rect x="359.00" y="140.40" width="9.3" height="85.60" fill="#a6a6a6"/>
<rect x="417.2" y="73.6" width="4" height="4" fill="#d9508a"/>
<rect x="417.2" y="88.9" width="4" height="4" fill="#e67ba4"/>
<rect x="417.2" y="104.2" width="4" height="4" fill="#eba1bd"/>
<rect x="417.2" y="119.5" width="4" height="4" fill="#a6a6a6"/>
</svg>
<div class="a" style="left:69.35000000000001px;top:88.04px;font-size:5.5px;line-height:7.15px;color:#444;transform:translateX(-50%);text-align:center;">99</div>
<div class="a" style="left:81.95px;top:84.09px;font-size:5.5px;line-height:7.15px;color:#444;transform:translateX(-50%);text-align:center;">102</div>
<div class="a" style="left:94.55000000000001px;top:113.06px;font-size:5.5px;line-height:7.15px;color:#444;transform:translateX(-50%);text-align:center;">80</div>
<div class="a" style="left:107.15px;top:159.16px;font-size:5.5px;line-height:7.15px;color:#444;transform:translateX(-50%);text-align:center;">45</div>
<div class="a" style="left:154.85px;top:93.31px;font-size:5.5px;line-height:7.15px;color:#444;transform:translateX(-50%);text-align:center;">95</div>
<div class="a" style="left:167.45px;top:131.50px;font-size:5.5px;line-height:7.15px;color:#444;transform:translateX(-50%);text-align:center;">66</div>
<div class="a" style="left:180.04999999999998px;top:159.16px;font-size:5.5px;line-height:7.15px;color:#444;transform:translateX(-50%);text-align:center;">45</div>
<div class="a" style="left:192.65px;top:144.67px;font-size:5.5px;line-height:7.15px;color:#444;transform:translateX(-50%);text-align:center;">56</div>
<div class="a" style="left:240.35px;top:152.58px;font-size:5.5px;line-height:7.15px;color:#444;transform:translateX(-50%);text-align:center;">50</div>
<div class="a" style="left:252.95px;top:86.73px;font-size:5.5px;line-height:7.15px;color:#444;transform:translateX(-50%);text-align:center;">100</div>
<div class="a" style="left:265.54999999999995px;top:106.48px;font-size:5.5px;line-height:7.15px;color:#444;transform:translateX(-50%);text-align:center;">85</div>
<div class="a" style="left:278.15px;top:126.23px;font-size:5.5px;line-height:7.15px;color:#444;transform:translateX(-50%);text-align:center;">70</div>
<div class="a" style="left:325.84999999999997px;top:159.16px;font-size:5.5px;line-height:7.15px;color:#444;transform:translateX(-50%);text-align:center;">45</div>
<div class="a" style="left:338.45px;top:102.53px;font-size:5.5px;line-height:7.15px;color:#444;transform:translateX(-50%);text-align:center;">88</div>
<div class="a" style="left:351.04999999999995px;top:119.65px;font-size:5.5px;line-height:7.15px;color:#444;transform:translateX(-50%);text-align:center;">75</div>
<div class="a" style="left:363.65px;top:132.82px;font-size:5.5px;line-height:7.15px;color:#444;transform:translateX(-50%);text-align:center;">65</div>
<div class="a" style="left:40.6px;top:223.43px;font-size:5.5px;line-height:7.15px;color:#555;transform:translateX(-100%);text-align:right;">0</div>
<div class="a" style="left:40.6px;top:197.09px;font-size:5.5px;line-height:7.15px;color:#555;transform:translateX(-100%);text-align:right;">20</div>
<div class="a" style="left:40.6px;top:170.75px;font-size:5.5px;line-height:7.15px;color:#555;transform:translateX(-100%);text-align:right;">40</div>
<div class="a" style="left:40.6px;top:144.41px;font-size:5.5px;line-height:7.15px;color:#555;transform:translateX(-100%);text-align:right;">60</div>
<div class="a" style="left:40.6px;top:118.06px;font-size:5.5px;line-height:7.15px;color:#555;transform:translateX(-100%);text-align:right;">80</div>
<div class="a" style="left:40.6px;top:91.73px;font-size:5.5px;line-height:7.15px;color:#555;transform:translateX(-100%);text-align:right;">100</div>
<div class="a" style="left:40.6px;top:65.39px;font-size:5.5px;line-height:7.15px;color:#555;transform:translateX(-100%);text-align:right;">120</div>
<div class="a" style="left:88.2px;top:230.03px;font-size:5.5px;line-height:7.15px;color:#333;transform:translateX(-50%);text-align:center;">项目1</div>
<div class="a" style="left:173.7px;top:230.03px;font-size:5.5px;line-height:7.15px;color:#333;transform:translateX(-50%);text-align:center;">项目2</div>
<div class="a" style="left:259.2px;top:230.03px;font-size:5.5px;line-height:7.15px;color:#333;transform:translateX(-50%);text-align:center;">项目3</div>
<div class="a" style="left:344.7px;top:230.03px;font-size:5.5px;line-height:7.15px;color:#333;transform:translateX(-50%);text-align:center;">项目4</div>
<div class="a" style="left:423px;top:71.40px;font-size:8px;line-height:10.4px;color:#444;">数据1</div>
<div class="a" style="left:423px;top:86.70px;font-size:8px;line-height:10.4px;color:#444;">数据2</div>
<div class="a" style="left:423px;top:102.00px;font-size:8px;line-height:10.4px;color:#444;">数据3</div>
<div class="a" style="left:423px;top:117.30px;font-size:8px;line-height:10.4px;color:#444;">数据4</div>
<div class="bar"></div><div class="t">柱状图数据对比</div>
<svg class="logo" viewBox="0 0 40 45"><use href="#lg"/></svg>
<div class="pn">48</div>
</div>

<div class="s c1" style="top:840px;">
<svg class="sv" width="475" height="270">
<rect x="39.70" y="121.9" width="17.2" height="99.9" fill="#d9d9d9"/>
<rect x="39.70" y="154.20" width="17.2" height="67.60" fill="#d9538a"/>
<rect x="82.35" y="121.9" width="17.2" height="99.9" fill="#d9d9d9"/>
<rect x="82.35" y="167.40" width="17.2" height="54.40" fill="#d9538a"/>
<rect x="125.00" y="121.9" width="17.2" height="99.9" fill="#d9d9d9"/>
<rect x="125.00" y="164.50" width="17.2" height="57.30" fill="#d9538a"/>
<rect x="167.65" y="121.9" width="17.2" height="99.9" fill="#d9d9d9"/>
<rect x="167.65" y="166.40" width="17.2" height="55.40" fill="#d9538a"/>
<rect x="210.30" y="121.9" width="17.2" height="99.9" fill="#d9d9d9"/>
<rect x="210.30" y="152.30" width="17.2" height="69.50" fill="#d9538a"/>
<rect x="252.95" y="121.9" width="17.2" height="99.9" fill="#d9d9d9"/>
<rect x="252.95" y="188.50" width="17.2" height="33.30" fill="#d9538a"/>
<rect x="295.60" y="121.9" width="17.2" height="99.9" fill="#d9d9d9"/>
<rect x="295.60" y="164.50" width="17.2" height="57.30" fill="#d9538a"/>
<rect x="338.25" y="121.9" width="17.2" height="99.9" fill="#d9d9d9"/>
<rect x="338.25" y="147.00" width="17.2" height="74.80" fill="#d9538a"/>
<rect x="380.90" y="121.9" width="17.2" height="99.9" fill="#d9d9d9"/>
<rect x="380.90" y="183.00" width="17.2" height="38.80" fill="#d9538a"/>
<rect x="423.55" y="121.9" width="17.2" height="99.9" fill="#d9d9d9"/>
<rect x="423.55" y="182.20" width="17.2" height="39.60" fill="#d9538a"/>
<line x1="346.8" y1="64" x2="346.8" y2="103" stroke="#eeeeee" stroke-width="0.8"/>
</svg>
<div class="a" style="left:48.300000000000004px;top:225.60px;font-size:6px;line-height:7.800000000000001px;color:#555;transform:translateX(-50%);text-align:center;">NO.1</div>
<div class="a" style="left:90.94999999999999px;top:225.60px;font-size:6px;line-height:7.800000000000001px;color:#555;transform:translateX(-50%);text-align:center;">NO.2</div>
<div class="a" style="left:133.6px;top:225.60px;font-size:6px;line-height:7.800000000000001px;color:#555;transform:translateX(-50%);text-align:center;">NO.3</div>
<div class="a" style="left:176.24999999999997px;top:225.60px;font-size:6px;line-height:7.800000000000001px;color:#555;transform:translateX(-50%);text-align:center;">NO.4</div>
<div class="a" style="left:218.9px;top:225.60px;font-size:6px;line-height:7.800000000000001px;color:#555;transform:translateX(-50%);text-align:center;">NO.5</div>
<div class="a" style="left:261.55px;top:225.60px;font-size:6px;line-height:7.800000000000001px;color:#555;transform:translateX(-50%);text-align:center;">NO.6</div>
<div class="a" style="left:304.2px;top:225.60px;font-size:6px;line-height:7.800000000000001px;color:#555;transform:translateX(-50%);text-align:center;">NO.7</div>
<div class="a" style="left:346.85px;top:225.60px;font-size:6px;line-height:7.800000000000001px;color:#555;transform:translateX(-50%);text-align:center;">NO.8</div>
<div class="a" style="left:389.5px;top:225.60px;font-size:6px;line-height:7.800000000000001px;color:#555;transform:translateX(-50%);text-align:center;">NO.9</div>
<div class="a" style="left:432.15px;top:225.60px;font-size:6px;line-height:7.800000000000001px;color:#555;transform:translateX(-50%);text-align:center;">NO.10</div>
<div class="a" style="left:284.5px;top:61.70px;font-size:16px;line-height:20.8px;color:#d0507f;font-weight:bold;transform:translateX(-50%);text-align:center;">8,230</div>
<div class="a" style="left:392px;top:61.70px;font-size:16px;line-height:20.8px;color:#c8c8c8;font-weight:bold;transform:translateX(-50%);text-align:center;">3,620</div>
<div class="a" style="left:259.9px;top:83.10px;font-size:6.5px;line-height:11px;color:#777;letter-spacing:-0.55px">标题数字等都可以通过点<br>击和重新输入进行更改</div>
<div class="a" style="left:367.7px;top:83.10px;font-size:6.5px;line-height:11px;color:#777;letter-spacing:-0.55px">标题数字等都可以通过点<br>击和重新输入进行更改</div>
<div class="bar"></div><div class="t">排行数据图表</div>
<svg class="logo" viewBox="0 0 40 45"><use href="#lg"/></svg>
<div class="pn">49</div>
</div>

<div class="s c0" style="top:1120px;">
<svg class="sv" width="474" height="270"><defs><linearGradient id="pa50" x1="0" y1="0" x2="0" y2="1"><stop offset="0" stop-color="#fafafa"/><stop offset="0.5" stop-color="#fdfdfd"/><stop offset="1" stop-color="#fbfbfb"/></linearGradient><filter id="bl50" x="-10%" y="-50%" width="120%" height="200%"><feGaussianBlur stdDeviation="3"/></filter></defs>
<rect x="34" y="104.8" width="419" height="103.6" fill="url(#pa50)"/>
<path d="M63.90 178.00C72.48 176.17 98.23 165.78 115.40 167.00C132.57 168.22 149.65 185.88 166.90 185.30C184.15 184.72 201.55 164.08 218.90 163.50C236.25 162.92 253.67 182.28 271.00 181.80C288.33 181.32 305.65 160.90 322.90 160.60C340.15 160.30 357.23 178.90 374.50 180.00C391.77 181.10 417.83 169.33 426.50 167.20" fill="none" stroke="#000" stroke-opacity="0.10" stroke-width="4" filter="url(#bl50)"/>
<path d="M63.90 196.00C72.48 193.00 98.23 190.07 115.40 178.00C132.57 165.93 149.65 121.20 166.90 123.60C184.15 126.00 201.55 185.13 218.90 192.40C236.25 199.67 253.67 170.80 271.00 167.20C288.33 163.60 305.65 176.90 322.90 170.80C340.15 164.70 357.23 137.87 374.50 130.60C391.77 123.33 417.83 127.77 426.50 127.20" fill="none" stroke="#c8497a" stroke-opacity="0.12" stroke-width="4" filter="url(#bl50)"/>
<path d="M63.90 171.00C72.48 169.17 98.23 158.78 115.40 160.00C132.57 161.22 149.65 178.88 166.90 178.30C184.15 177.72 201.55 157.08 218.90 156.50C236.25 155.92 253.67 175.28 271.00 174.80C288.33 174.32 305.65 153.90 322.90 153.60C340.15 153.30 357.23 171.90 374.50 173.00C391.77 174.10 417.83 162.33 426.50 160.20" fill="none" stroke="#c4c4c4" stroke-width="2.2"/>
<path d="M63.90 189.00C72.48 186.00 98.23 183.07 115.40 171.00C132.57 158.93 149.65 114.20 166.90 116.60C184.15 119.00 201.55 178.13 218.90 185.40C236.25 192.67 253.67 163.80 271.00 160.20C288.33 156.60 305.65 169.90 322.90 163.80C340.15 157.70 357.23 130.87 374.50 123.60C391.77 116.33 417.83 120.77 426.50 120.20" fill="none" stroke="#c8497a" stroke-width="2.2"/>
<circle cx="63.9" cy="171" r="2.6" fill="#c4c4c4" stroke="#fff" stroke-width="0.8"/>
<circle cx="115.4" cy="160" r="2.6" fill="#c4c4c4" stroke="#fff" stroke-width="0.8"/>
<circle cx="166.9" cy="178.3" r="2.6" fill="#c4c4c4" stroke="#fff" stroke-width="0.8"/>
<circle cx="218.9" cy="156.5" r="2.6" fill="#c4c4c4" stroke="#fff" stroke-width="0.8"/>
<circle cx="271" cy="174.8" r="2.6" fill="#c4c4c4" stroke="#fff" stroke-width="0.8"/>
<circle cx="322.9" cy="153.6" r="2.6" fill="#c4c4c4" stroke="#fff" stroke-width="0.8"/>
<circle cx="374.5" cy="173" r="2.6" fill="#c4c4c4" stroke="#fff" stroke-width="0.8"/>
<circle cx="426.5" cy="160.2" r="2.6" fill="#c4c4c4" stroke="#fff" stroke-width="0.8"/>
<circle cx="63.9" cy="189" r="2.6" fill="#c8497a" stroke="#fff" stroke-width="0.8"/>
<circle cx="115.4" cy="171" r="2.6" fill="#c8497a" stroke="#fff" stroke-width="0.8"/>
<circle cx="166.9" cy="116.6" r="2.6" fill="#c8497a" stroke="#fff" stroke-width="0.8"/>
<circle cx="218.9" cy="185.4" r="2.6" fill="#c8497a" stroke="#fff" stroke-width="0.8"/>
<circle cx="271" cy="160.2" r="2.6" fill="#c8497a" stroke="#fff" stroke-width="0.8"/>
<circle cx="322.9" cy="163.8" r="2.6" fill="#c8497a" stroke="#fff" stroke-width="0.8"/>
<circle cx="374.5" cy="123.6" r="2.6" fill="#c8497a" stroke="#fff" stroke-width="0.8"/>
<circle cx="426.5" cy="120.2" r="2.6" fill="#c8497a" stroke="#fff" stroke-width="0.8"/>
<line x1="177" y1="93" x2="186" y2="93" stroke="#c4c4c4" stroke-width="1.2" stroke-dasharray="1.5 1.5"/><circle cx="181.5" cy="93" r="1.8" fill="#c4c4c4"/>
<line x1="251" y1="93" x2="260" y2="93" stroke="#c8497a" stroke-width="1.2" stroke-dasharray="1.5 1.5"/><circle cx="255.5" cy="93" r="1.8" fill="#c8497a"/>
</svg>
<div class="a" style="left:32px;top:102.70px;font-size:6px;line-height:7.800000000000001px;color:#cccccc;transform:translateX(-100%);text-align:right;">230</div>
<div class="a" style="left:32px;top:109.97px;font-size:6px;line-height:7.800000000000001px;color:#cccccc;transform:translateX(-100%);text-align:right;">210</div>
<div class="a" style="left:32px;top:117.24px;font-size:6px;line-height:7.800000000000001px;color:#cccccc;transform:translateX(-100%);text-align:right;">190</div>
<div class="a" style="left:32px;top:124.52px;font-size:6px;line-height:7.800000000000001px;color:#cccccc;transform:translateX(-100%);text-align:right;">170</div>
<div class="a" style="left:32px;top:131.79px;font-size:6px;line-height:7.800000000000001px;color:#cccccc;transform:translateX(-100%);text-align:right;">150</div>
<div class="a" style="left:32px;top:139.06px;font-size:6px;line-height:7.800000000000001px;color:#cccccc;transform:translateX(-100%);text-align:right;">130</div>
<div class="a" style="left:32px;top:146.33px;font-size:6px;line-height:7.800000000000001px;color:#cccccc;transform:translateX(-100%);text-align:right;">110</div>
<div class="a" style="left:32px;top:153.60px;font-size:6px;line-height:7.800000000000001px;color:#cccccc;transform:translateX(-100%);text-align:right;">90</div>
<div class="a" style="left:32px;top:160.88px;font-size:6px;line-height:7.800000000000001px;color:#cccccc;transform:translateX(-100%);text-align:right;">70</div>
<div class="a" style="left:32px;top:168.15px;font-size:6px;line-height:7.800000000000001px;color:#cccccc;transform:translateX(-100%);text-align:right;">50</div>
<div class="a" style="left:32px;top:175.42px;font-size:6px;line-height:7.800000000000001px;color:#cccccc;transform:translateX(-100%);text-align:right;">30</div>
<div class="a" style="left:32px;top:182.69px;font-size:6px;line-height:7.800000000000001px;color:#cccccc;transform:translateX(-100%);text-align:right;">10</div>
<div class="a" style="left:32px;top:189.96px;font-size:6px;line-height:7.800000000000001px;color:#cccccc;transform:translateX(-100%);text-align:right;">-10</div>
<div class="a" style="left:32px;top:197.24px;font-size:6px;line-height:7.800000000000001px;color:#cccccc;transform:translateX(-100%);text-align:right;">-30</div>
<div class="a" style="left:32px;top:204.51px;font-size:6px;line-height:7.800000000000001px;color:#cccccc;transform:translateX(-100%);text-align:right;">-50</div>
<div class="a" style="left:63.9px;top:215.47px;font-size:6.5px;line-height:8.450000000000001px;color:#b0b0b0;transform:translateX(-50%);text-align:center;">数据1</div>
<div class="a" style="left:115.4px;top:215.47px;font-size:6.5px;line-height:8.450000000000001px;color:#b0b0b0;transform:translateX(-50%);text-align:center;">数据2</div>
<div class="a" style="left:166.9px;top:215.47px;font-size:6.5px;line-height:8.450000000000001px;color:#b0b0b0;transform:translateX(-50%);text-align:center;">数据3</div>
<div class="a" style="left:218.9px;top:215.47px;font-size:6.5px;line-height:8.450000000000001px;color:#b0b0b0;transform:translateX(-50%);text-align:center;">数据4</div>
<div class="a" style="left:271px;top:215.47px;font-size:6.5px;line-height:8.450000000000001px;color:#b0b0b0;transform:translateX(-50%);text-align:center;">数据5</div>
<div class="a" style="left:322.9px;top:215.47px;font-size:6.5px;line-height:8.450000000000001px;color:#b0b0b0;transform:translateX(-50%);text-align:center;">数据6</div>
<div class="a" style="left:374.5px;top:215.47px;font-size:6.5px;line-height:8.450000000000001px;color:#b0b0b0;transform:translateX(-50%);text-align:center;">数据7</div>
<div class="a" style="left:426.5px;top:215.47px;font-size:6.5px;line-height:8.450000000000001px;color:#b0b0b0;transform:translateX(-50%);text-align:center;">数据8</div>
<div class="a" style="left:218px;top:59.53px;font-size:13.8px;line-height:17.94px;color:#505050;transform:translateX(-50%);text-align:center;">折线图数据分析工具</div>
<div class="a" style="left:188px;top:87.00px;font-size:10px;line-height:13.0px;color:#404040;">Series 1</div>
<div class="a" style="left:261.5px;top:87.00px;font-size:10px;line-height:13.0px;color:#404040;">Series 2</div>
<div class="bar"></div><div class="t">折线图数据分析工具</div>
<svg class="logo" viewBox="0 0 40 45"><use href="#lg"/></svg>
<div class="pn">50</div>
</div>

<div class="s c1" style="top:1120px;">
<svg class="sv" width="475" height="270">
<path d="M42.20 137.86C55.37 132.74 94.87 105.62 121.20 107.16C147.53 108.69 173.87 142.98 200.20 147.07C226.53 151.16 266.03 134.28 279.20 131.72" fill="none" stroke="#dedede" stroke-width="3"/>
<path d="M42.20 144.00C55.37 144.00 94.87 146.56 121.20 144.00C147.53 141.44 173.87 136.32 200.20 128.65C226.53 120.97 266.03 103.07 279.20 97.95" fill="none" stroke="#a6a6a6" stroke-width="3"/>
<path d="M42.20 108.69C55.37 113.30 94.87 134.28 121.20 136.32C147.53 138.37 173.87 126.09 200.20 120.97C226.53 115.86 266.03 108.18 279.20 105.62" fill="none" stroke="#d04a7c" stroke-width="3"/>
</svg>
<div class="a" style="left:32px;top:171.47px;font-size:6.5px;line-height:8.450000000000001px;color:#555;">0</div>
<div class="a" style="left:32px;top:156.12px;font-size:6.5px;line-height:8.450000000000001px;color:#555;">1</div>
<div class="a" style="left:32px;top:140.78px;font-size:6.5px;line-height:8.450000000000001px;color:#555;">2</div>
<div class="a" style="left:32px;top:125.42px;font-size:6.5px;line-height:8.450000000000001px;color:#555;">3</div>
<div class="a" style="left:32px;top:110.07px;font-size:6.5px;line-height:8.450000000000001px;color:#555;">4</div>
<div class="a" style="left:32px;top:94.72px;font-size:6.5px;line-height:8.450000000000001px;color:#555;">5</div>
<div class="a" style="left:32px;top:79.38px;font-size:6.5px;line-height:8.450000000000001px;color:#555;">6</div>
<div class="a" style="left:42.2px;top:179.78px;font-size:6.5px;line-height:8.450000000000001px;color:#555;transform:translateX(-50%);text-align:center;">NO.1</div>
<div class="a" style="left:121.2px;top:179.78px;font-size:6.5px;line-height:8.450000000000001px;color:#555;transform:translateX(-50%);text-align:center;">NO.2</div>
<div class="a" style="left:200.2px;top:179.78px;font-size:6.5px;line-height:8.450000000000001px;color:#555;transform:translateX(-50%);text-align:center;">NO.3</div>
<div class="a" style="left:279.2px;top:179.78px;font-size:6.5px;line-height:8.450000000000001px;color:#555;transform:translateX(-50%);text-align:center;">NO.4</div>
<div class="a" style="left:151.25px;top:66.30px;font-size:8px;line-height:10.4px;color:#444;transform:translateX(-50%);text-align:center;">输入图表标题</div>
<div class="a" style="left:33.7px;top:210.30px;font-size:7px;line-height:12.6px;color:#555;">标题数字等都可以通过点击和重新输入进行更改，顶部<span class="ql">“</span>开始<span class="qr">”</span>面板中可以对字体、<br>字号、进行修改等编辑操作</div>
<div class="a" style="left:315.6px;top:71.30px;font-size:12px;line-height:15.600000000000001px;color:#d9538a;font-weight:bold;">点击此处添加标题</div>
<div class="a" style="left:315.6px;top:88.50px;font-size:7px;line-height:13px;color:#555;">标题数字等都可以通过点击和重新输入进行<br>更改，顶部<span class="ql">“</span>开始<span class="qr">”</span>面板中可以对字体、字<br>号、进行修改等编辑操作</div>
<div class="a" style="left:315.6px;top:155.20px;font-size:12px;line-height:15.600000000000001px;color:#d9538a;font-weight:bold;">点击此处添加标题</div>
<div class="a" style="left:315.6px;top:172.50px;font-size:7px;line-height:13px;color:#555;">标题数字等都可以通过点击和重新输入进行<br>更改，顶部<span class="ql">“</span>开始<span class="qr">”</span>面板中可以对字体、字<br>号、进行修改等编辑操作</div>
<div class="bar"></div><div class="t">折线图表</div>
<svg class="logo" viewBox="0 0 40 45"><use href="#lg"/></svg>
<div class="pn">51</div>
</div>
<svg width="0" height="0" style="position:absolute"><defs>
<g id="lg" fill="none" stroke-linecap="round" stroke-linejoin="round">
<path d="M28.75 18.3 L28.75 13.6 Q28.75 10.9 26 10.2 Q18.3 8.1 10.6 10.2 Q7.9 10.9 7.9 13.6 L7.9 26.5 Q8.2 28.6 10.2 30.4 L18.3 36.4 L26.6 29.6 Q29 27.4 29 25.5 A5.5 5.5 0 0 0 18 25.5 A3.5 3.5 0 0 0 25 25.5 A1.9 1.9 0 0 0 23.1 23.6" stroke="#c94a7b" stroke-width="1.9"/>
<circle cx="22.9" cy="15.6" r="1.9" fill="#c94a7b"/>
<circle cx="15" cy="19" r="1.85" fill="#3394b8"/>
<path d="M17.3 22.5 A3.2 3.2 0 1 0 17.1 28.5" stroke="#2a8cc4" stroke-width="2.1"/>
</g></defs></svg>
</body></html>
